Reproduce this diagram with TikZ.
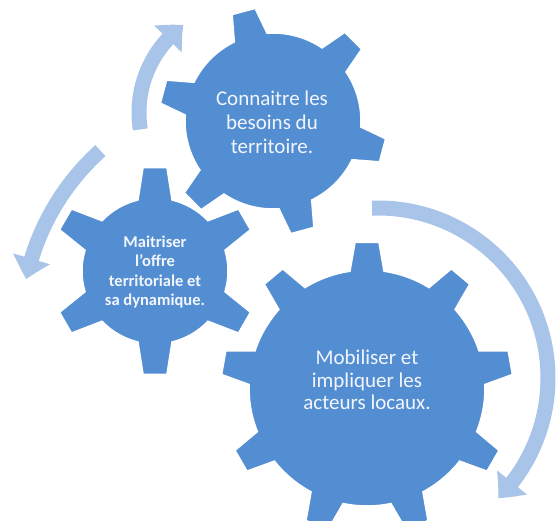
\documentclass[tikz,border=0pt]{standalone}
\usepackage{fontspec}
\setmainfont{Carlito}
\usetikzlibrary{arrows.meta,bending,calc}
\definecolor{gearblue}{RGB}{84,142,210}
\definecolor{flowblue}{RGB}{168,196,232}
\definecolor{txtcol}{RGB}{242,246,252}
\tikzset{
  gearbody/.style={fill=gearblue, draw=white, line width=1.5pt, line join=miter},
  flow/.style={draw=flowblue, line width=15pt, -{Triangle[width=37pt,length=21pt,bend]}},
  geartext/.style={text=txtcol, align=center, inner sep=0pt},
}
\newcommand\gearshape[7]{% #1 centre, #2 teeth, #3 offset, #4 R, #5 r, #6 root half-angle, #7 tip half-angle
  \fill[gearbody] ([shift={(#3-#6:#5)}]#1)
    \foreach \k [evaluate=\k as \a using {#3+(\k-1)*360/#2},
                 evaluate=\k as \ta using {#3+(\k-1)*360/#2-#7},
                 evaluate=\k as \tb using {#3+(\k-1)*360/#2+#7},
                 evaluate=\k as \rs using {#3+(\k-1)*360/#2+#6},
                 evaluate=\k as \re using {#3+\k*360/#2-#6}] in {1,...,#2} {
      -- ([shift={(\ta:#4)}]#1) -- ([shift={(\tb:#4)}]#1) -- ([shift={(\rs:#5)}]#1)
      arc[start angle=\rs, end angle=\re, radius=#5]
    } -- cycle;
}
\begin{document}
\begin{tikzpicture}[x=1pt,y=1pt]
\useasboundingbox (0,0) rectangle (560,520);
% gear centres
\coordinate (gT) at (273,399);
\coordinate (gL) at (155,249);
\coordinate (gB) at (367,132);
% arrow arc centres
\coordinate (cA) at (247,407.5);
\coordinate (cB) at (261,191);
\coordinate (cC) at (378,142);
\coordinate (sA) at ($(cA)+(189:108)$);
\coordinate (sB) at ($(cB)+(132:240)$);
\coordinate (sC) at ($(cC)+(92:170)$);
% arrows
\draw[flow] (sA) arc[start angle=189, end angle=126, radius=108];
\draw[flow] (sB) arc[start angle=132, end angle=168, radius=240];
\draw[flow] (sC) arc[start angle=92, end angle=-45, radius=170];
% gears
\gearshape{gL}{6}{30}{104}{73}{13.5}{6.6}
\gearshape{gB}{9}{90}{146}{118}{8.3}{4.7}
\gearshape{gT}{6}{45}{114}{88}{11.1}{6.0}
% texts
\node[geartext, font=\fontsize{21}{24}\selectfont] (tT) at (272,398) {Connaitre les\\besoins du\\territoire.};
\node[geartext, font=\bfseries\fontsize{16.5}{19.5}\selectfont] (tL) at (155,248) {Maitriser\\l’offre\\territoriale et\\sa dynamique.};
\node[geartext, font=\fontsize{21}{22.5}\selectfont] (tB) at (367,140) {Mobiliser et\\impliquer les\\acteurs locaux.};
\end{tikzpicture}
\end{document}
